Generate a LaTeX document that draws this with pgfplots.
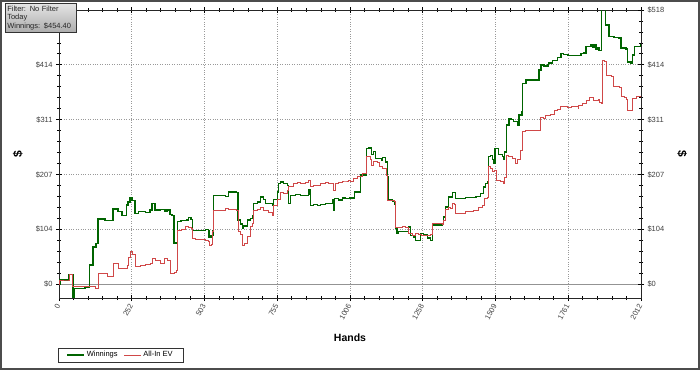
\documentclass[border=0pt]{standalone}
\usepackage{pgfplots}
\pgfplotsset{compat=1.18}
\usepackage{fontspec}
\setmainfont{Liberation Sans}
\setsansfont{Liberation Sans}
\definecolor{wgreen}{RGB}{0,100,0}
\definecolor{evred}{RGB}{208,72,72}
\definecolor{tlabel}{RGB}{64,64,64}

\pgfplotstableread{
x y
0 0
3 8
31 8
35 18
45 18
48 -24
52 -8
90 -6
104 -5
106 36
118 70
128 77
135 123
159 120
177 120
187 142
204 137
218 130
232 130
234 150
239 155
246 163
253 158
263 134
274 137
298 136
315 140
322 153
332 140
350 141
367 138
374 140
384 132
391 130
398 78
405 79
409 118
422 120
440 121
447 126
457 122
461 102
481 102
506 103
516 102
519 89
526 92
532 102
535 168
557 168
575 166
585 174
613 173
619 121
627 114
634 105
637 110
651 121
661 124
668 130
672 153
686 155
696 165
706 160
713 153
724 153
738 149
741 160
755 174
758 190
765 193
776 190
790 187
794 153
800 168
817 170
835 168
852 168
862 170
864 178
869 149
880 151
893 149
904 151
921 153
932 153
945 159
949 140
952 162
966 159
980 163
990 162
1004 163
1018 162
1022 174
1039 174
1043 206
1056 206
1062 256
1070 257
1080 245
1087 251
1094 238
1108 238
1115 234
1119 239
1129 231
1135 203
1138 159
1153 157
1160 151
1164 105
1169 96
1174 100
1198 100
1209 108
1215 92
1226 89
1233 83
1243 83
1250 96
1261 94
1274 87
1285 83
1291 112
1312 112
1326 114
1330 127
1337 146
1347 165
1360 173
1368 173
1371 162
1396 162
1406 164
1423 164
1441 166
1458 171
1468 184
1475 190
1481 193
1485 241
1492 243
1499 236
1503 228
1507 256
1513 256
1520 245
1534 241
1538 236
1541 250
1547 301
1555 313
1562 311
1572 307
1586 301
1590 320
1600 326
1602 379
1614 386
1631 386
1655 386
1659 405
1666 414
1676 412
1690 414
1693 418
1707 423
1724 428
1735 436
1745 434
1759 432
1770 432
1794 432
1804 436
1815 437
1822 449
1839 452
1846 447
1849 452
1856 444
1863 446
1867 441
1873 442
1876 540
1884 530
1889 490
1898 490
1901 468
1918 466
1936 465
1943 446
1960 444
1966 420
1977 417
1983 433
1989 449
2005 449
2012 455
}\winnings

\pgfplotstableread{
x y
0 0
3 8
31 8
35 18
45 18
48 -5
90 -4
104 -4
125 -8
134 -8
135 21
159 20
166 14
184 14
187 40
204 30
229 30
235 35
239 50
246 62
253 56
263 33
281 35
298 38
315 40
322 49
332 45
350 40
360 40
364 48
374 45
384 21
398 23
405 26
409 102
422 104
436 110
447 108
457 106
460 86
471 84
488 85
506 82
516 80
519 74
526 76
532 100
534 140
557 140
575 144
585 142
613 140
619 99
627 95
633 74
641 78
651 90
661 110
667 115
672 140
686 142
696 146
706 140
724 136
737 130
741 148
755 160
765 174
776 172
790 178
794 184
810 190
824 193
835 190
842 190
852 192
862 197
869 185
880 187
893 187
904 190
921 192
932 190
945 190
949 178
956 190
966 192
980 195
990 195
1001 197
1008 195
1018 199
1032 204
1048 209
1060 210
1063 241
1070 241
1077 236
1080 225
1087 232
1101 230
1108 222
1115 222
1119 218
1125 218
1131 206
1136 159
1153 159
1161 156
1164 108
1174 108
1188 109
1198 108
1209 96
1222 93
1233 96
1243 95
1254 93
1274 92
1285 94
1291 115
1312 115
1326 113
1330 120
1337 142
1347 146
1354 144
1360 153
1368 151
1371 134
1399 134
1406 138
1416 138
1434 140
1451 146
1465 148
1469 162
1482 164
1485 222
1492 218
1499 214
1506 215
1512 197
1527 194
1538 191
1541 202
1547 244
1555 242
1569 238
1579 228
1586 236
1596 253
1602 288
1614 290
1659 290
1663 316
1676 314
1683 319
1700 321
1711 329
1724 331
1735 336
1759 334
1770 335
1794 333
1797 338
1811 342
1822 348
1832 352
1846 352
1849 348
1863 350
1867 344
1876 342
1879 423
1887 421
1894 395
1908 393
1918 373
1936 371
1943 354
1953 352
1960 349
1966 329
1977 329
1983 351
1995 355
2005 355
2012 367
}\allinev

\begin{document}
\begin{tikzpicture}
\path[use as bounding box] (0pt,0pt) rectangle (700pt,370pt);
\fill[white] (0pt,0pt) rectangle (700pt,370pt);
\draw[line width=2pt, black!70] (1pt,1pt) rectangle (699pt,369pt);

\begin{axis}[
  at={(59pt,72pt)}, anchor=south west,
  width=582pt, height=288pt, scale only axis,
  xmin=0, xmax=2012, ymin=-26, ymax=518,
  xtick={0,251.5,503,754.5,1006,1257.5,1509,1760.5,2012},
  xticklabels={0,252,503,755,1006,1258,1509,1761,2012},
  ytick={0,103.6,207.2,310.8,414.4,518},
  yticklabels={\$0,\$104,\$207,\$311,\$414,{}},
  minor x tick num=4, minor y tick num=4,
  tick align=center,
  major tick length=6pt, minor tick length=4pt,
  tick style={black, line width=0.8pt},
  axis line style={black!85, line width=1pt},
  grid=major,
  major grid style={dotted, gray!80, line width=0.8pt},
  extra y ticks={0}, extra y tick labels={},
  extra y tick style={grid=major, major grid style={solid, gray!85, line width=1.3pt}, major tick length=0pt},
  /pgf/number format/assume math mode=true,
  ticklabel style={font=\fontsize{7.5}{8}\selectfont, text=tlabel},
  xticklabel style={rotate=62, anchor=east, yshift=-1pt},
  xlabel={\textbf{Hands}},
  xlabel style={at={(axis description cs:0.5,-0.139)}, anchor=center, font=\fontsize{10.5}{12}\selectfont},
  ylabel={\textbf{\$}},
  ylabel style={at={(axis description cs:-0.0705,0.5)}, anchor=center, font=\fontsize{12}{13}\selectfont},
  legend columns=2,
  legend style={at={(axis description cs:0.1057,-0.198)}, anchor=center, draw=none, fill=none,
    font=\fontsize{7.5}{8}\selectfont, inner sep=0pt, row sep=0pt,
    /tikz/every even column/.append style={column sep=4pt}},
  legend image code/.code={\draw[#1] (0pt,0pt) -- (17pt,0pt);},
]
\addplot[const plot, color=wgreen, draw=wgreen, line width=1.4pt] table[x=x,y=y] {\winnings};
\addlegendentry{Winnings}
\addplot[const plot, color=evred, draw=evred, line width=0.8pt] table[x=x,y=y] {\allinev};
\addlegendentry{All-In EV}
\end{axis}

\begin{axis}[
  at={(59pt,72pt)}, anchor=south west,
  width=582pt, height=288pt, scale only axis,
  xmin=0, xmax=2012, ymin=-26, ymax=518,
  hide x axis,
  axis y line*=right,
  ytick={0,103.6,207.2,310.8,414.4,518},
  yticklabels={\$0,\$104,\$207,\$311,\$414,\$518},
  minor y tick num=4,
  tick align=center,
  major tick length=6pt, minor tick length=4pt,
  tick style={black, line width=0.8pt},
  axis line style={black!85, line width=1pt},
  /pgf/number format/assume math mode=true,
  ticklabel style={font=\fontsize{7.5}{8}\selectfont, text=tlabel},
  ylabel={\textbf{\$}},
  ylabel style={at={(axis description cs:1.0705,0.5)}, anchor=center, rotate=180, font=\fontsize{12}{13}\selectfont},
]
\end{axis}

\draw[black!80, line width=0.6pt] (58pt,8pt) rectangle (183pt,22pt);

\node[draw=black!80, line width=0.6pt, top color=gray!20, bottom color=gray!65, anchor=north west,
  align=left, inner xsep=2pt, inner ysep=1.5pt, text width=67pt, minimum height=29pt,
  font=\fontsize{7.5}{8.5}\selectfont, text=black!85] at (5pt,367pt)
  {Filter: No Filter\\Today\\Winnings: \$454.40};
\end{tikzpicture}
\end{document}
